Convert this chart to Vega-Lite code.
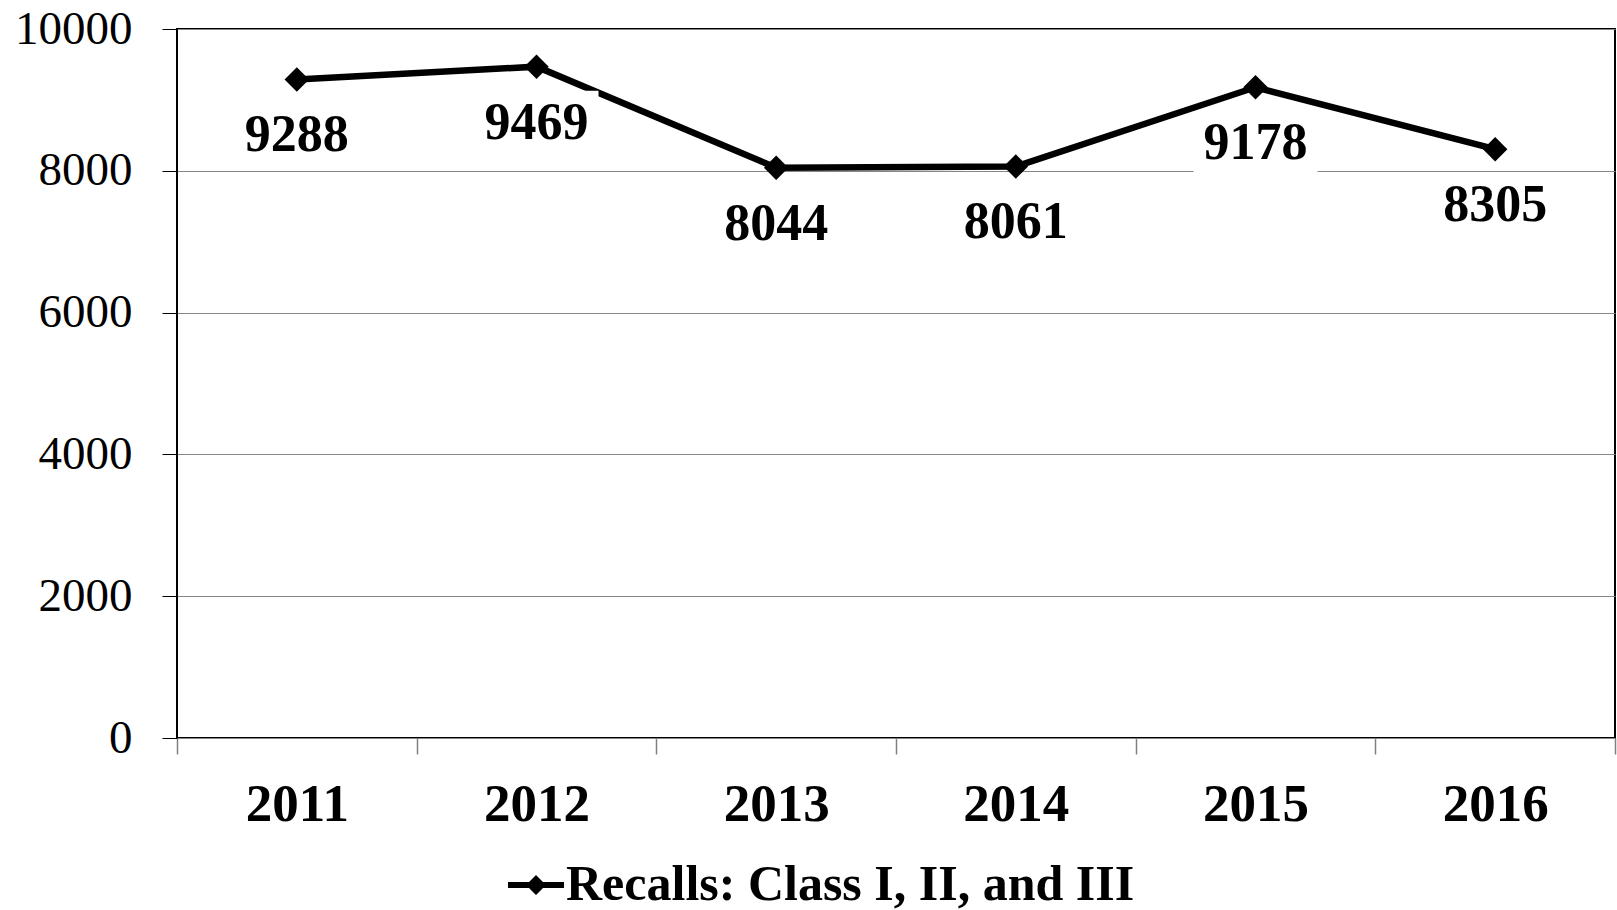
{
  "$schema": "https://vega.github.io/schema/vega-lite/v6.json",
  "width": 1438,
  "height": 709,
  "autosize": "none",
  "padding": {"left": 177, "top": 29, "right": 2, "bottom": 172},
  "background": "white",
  "config": {
    "view": {"stroke": "black", "strokeWidth": 2},
    "font": "Liberation Serif"
  },
  "data": {
    "values": [
      {"year": "2011", "recalls": 9288, "series": "Recalls: Class I, II, and III"},
      {"year": "2012", "recalls": 9469, "series": "Recalls: Class I, II, and III"},
      {"year": "2013", "recalls": 8044, "series": "Recalls: Class I, II, and III"},
      {"year": "2014", "recalls": 8061, "series": "Recalls: Class I, II, and III"},
      {"year": "2015", "recalls": 9178, "series": "Recalls: Class I, II, and III"},
      {"year": "2016", "recalls": 8305, "series": "Recalls: Class I, II, and III"}
    ]
  },
  "encoding": {
    "x": {
      "field": "year",
      "type": "ordinal",
      "scale": {"type": "band", "paddingInner": 0, "paddingOuter": 0},
      "axis": {
        "title": null,
        "labelAngle": 0,
        "grid": false,
        "domain": false,
        "tickBand": "extent",
        "tickSize": 16,
        "tickColor": "#808080",
        "tickWidth": 1.5,
        "labelFont": "Liberation Serif",
        "labelFontSize": 53,
        "labelFontWeight": "bold",
        "labelColor": "black",
        "labelPadding": 24
      }
    },
    "y": {
      "field": "recalls",
      "type": "quantitative",
      "scale": {"domain": [0, 10000], "nice": false},
      "axis": {
        "title": null,
        "values": [0, 2000, 4000, 6000, 8000, 10000],
        "format": "d",
        "grid": true,
        "gridColor": "#868686",
        "gridWidth": 1,
        "domain": false,
        "tickSize": 15,
        "tickColor": "black",
        "tickWidth": 1,
        "labelFont": "Liberation Serif",
        "labelFontSize": 47,
        "labelColor": "black",
        "labelPadding": 30,
        "labelBaseline": "middle"
      }
    }
  },
  "layer": [
    {
      "mark": {"type": "line", "color": "black", "strokeWidth": 6.5}
    },
    {
      "mark": {"type": "point", "shape": "diamond", "filled": true, "size": 600, "opacity": 1},
      "encoding": {
        "color": {
          "field": "series",
          "type": "nominal",
          "scale": {"range": ["black"]},
          "legend": {
            "title": null,
            "orient": "none",
            "legendX": 331,
            "legendY": 828,
            "padding": 0,
            "symbolType": "M-1,-0.11 L-0.25,-0.11 L0,-0.36 L0.25,-0.11 L1,-0.11 L1,0.11 L0.25,0.11 L0,0.36 L-0.25,0.11 L-1,0.11 Z",
            "symbolSize": 3136,
            "symbolFillColor": "black",
            "symbolStrokeWidth": 0,
            "labelFont": "Liberation Serif",
            "labelFontSize": 50,
            "labelFontWeight": "bold",
            "labelColor": "black",
            "labelOffset": 2,
            "labelLimit": 0
          }
        }
      }
    },
    {
      "mark": {
        "type": "point",
        "shape": "M-1,-0.516 L1,-0.516 L1,0.516 L-1,0.516 Z",
        "filled": true,
        "color": "white",
        "opacity": 1,
        "size": 15376,
        "yOffset": 56
      }
    },
    {
      "mark": {
        "type": "text",
        "dy": 56,
        "baseline": "middle",
        "align": "center",
        "font": "Liberation Serif",
        "fontSize": 52,
        "fontWeight": "bold",
        "color": "black"
      },
      "encoding": {"text": {"field": "recalls", "type": "quantitative", "format": "d"}}
    }
  ]
}
